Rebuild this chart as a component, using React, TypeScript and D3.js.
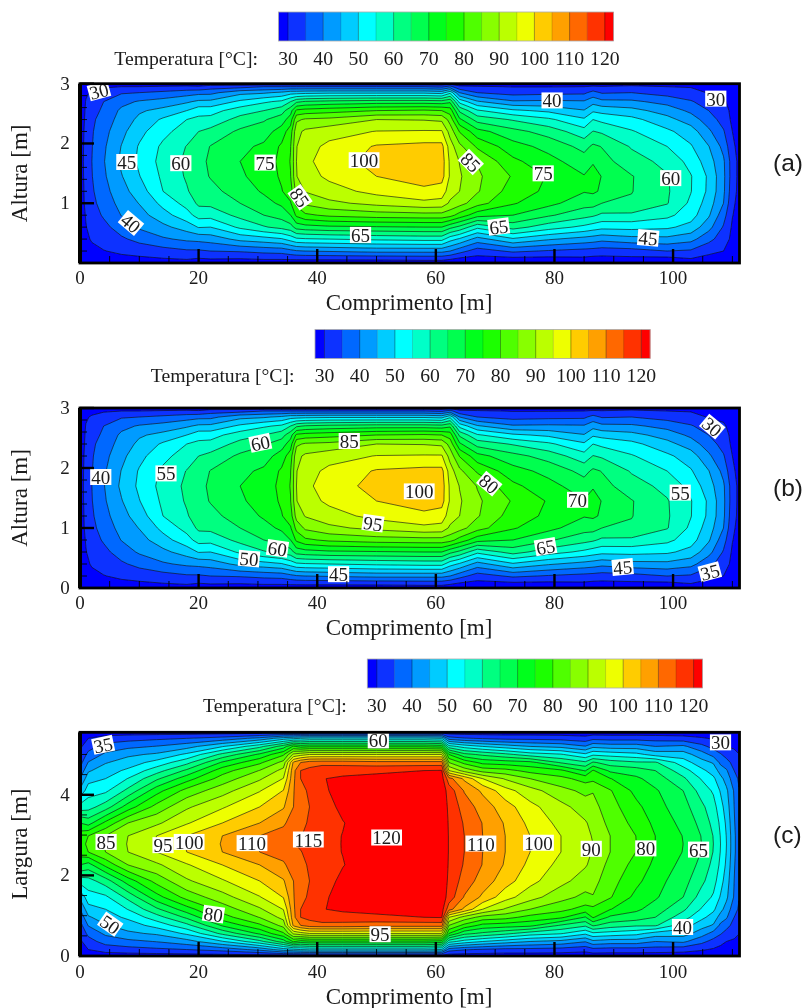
import React, { useMemo } from "react";
import * as d3 from "d3";

const levels = d3.range(30, 121, 5);
const bandColors = ["#0000ff","#0a32ff","#0068ff","#009bff","#00ccff","#00ffff","#00ffc8","#00ff80","#00ff50","#00ff1a","#1aff00","#50ff00","#88ff00","#bbff00","#eeff00","#ffcc00","#ffa000","#ff6800","#ff3300","#ff0000"];
const legendTicks = [30,40,50,60,70,80,90,100,110,120];

// sections of panels (a) and (b): position along the length [m]
const xsAB = [0,1,2,4,7,10,14,18,20,22,27,31,34,35.5,36.5,38,42,50,58,61,62.4,64,67,73,79,85,86.5,88,93,99,103,106,108.5,110,111.2];
// height [m]
const ysAB = [0,0.06,0.2,0.4,0.6,0.8,1,1.2,1.45,1.7,1.95,2.2,2.4,2.55,2.7,2.85,2.95,3];
// temperature [C] at each height, one line per section
const tempAB = [
[26,26.5,27,27,27.5,27.5,28,28,28,28,28,28,27.5,27.5,27,27,26.5,26],
[26.5,27,28,29,29.8,30.3,30.8,31,31.3,31.5,31.3,31,30.8,30.5,30.2,29.5,28,26.5],
[26.5,27.3,28.7,30.5,31.8,32.8,33.7,34.3,34.8,35,34.8,34.5,34,33,32,30.5,28.8,26.5],
[27,28,29.8,32,33.6,35.6,37,38.2,39.2,39.7,39.2,38.3,37.2,36,35,32,29.5,27],
[27.5,28.5,31,34.2,37.3,40.2,41.8,43.2,44.7,46,45.2,43.6,42,41,38.5,34.5,30,27],
[28,28.8,32,36.5,40.7,43,45.2,47.4,49.8,51,50.5,48.5,46.2,44.3,40.5,35,30,27],
[28,29.5,33,39.3,43.7,48,51.5,55,56,56.8,56,53.5,50.8,46.5,42,36.2,30.5,27],
[28,30,34.3,41,47.3,53,56.8,59.5,60.6,61,60.2,57.5,55,50,44.2,37.7,31,27],
[27.5,29.3,34.3,41.5,50.3,57,61,62.5,63.3,63.6,62.5,60,56.2,53,46,38.5,30.5,27],
[28,29.7,35,42.2,50,56.8,61.3,63.5,65.3,65.8,65.2,61.5,56.7,52.9,46.2,38.6,32.5,27],
[28,29.5,35.5,46.5,56,61.5,65,67.3,69.2,70,68.7,66,61.8,57.7,51,43.5,33,27],
[27.5,30,36.5,48,59.5,65,68.2,70.7,72.3,73,71,67.5,64.5,60,54.2,44.3,35,27],
[27.5,30,37,49.5,61.5,67,71,74.7,75.7,76,75.8,72.5,67.5,63,56,46,35,27],
[27,30.2,38.5,52,63,70,74.5,77.5,79.8,80.3,79.8,77.5,72.5,68,60,48,35,27],
[27,30.3,39.5,54,67,76,81.5,87,89.8,90,89.8,88.5,84,76,64,48,35,27],
[27,30.4,40,54.5,68,79,86,90.3,93,94,93,91,85.7,77,65.5,48.5,35,27],
[27,30.4,40.5,55,69,81,88.8,93,96,97,96.2,93,86.4,78,66.5,49,35,27],
[27,30.5,41.5,56,69.5,82.5,91.5,96.5,100,102,100.5,95.2,90,80,67.5,49,35,27],
[27,31,41.5,56.7,70,83,93.8,98.5,103,104,101.5,95.5,89.7,80.7,67.5,49,35,27],
[27,31,41.5,56.7,70,83,93.3,97.5,102,102.5,101.5,95.5,89,80,67,48,34,27],
[27,30,40,52,66.5,81.8,89,92.5,94.3,94,92.5,88,83,77.7,69,53.8,36.7,29],
[26,28.5,37,49.3,63.7,78,87,90,90.6,89.8,86.3,79.7,71,64,53.3,40,31,27],
[27,28,32.5,43,56.3,72,82,85.5,85.9,84.7,79.2,71.8,63,55.6,45.6,35,30.5,27],
[27,28,36,49.3,62,70,75.5,77.5,79.5,76.2,72,66.7,59.5,51,40.7,33,29.8,27],
[27,28,34.5,45.6,57.3,65.7,71.5,74,74.5,71.7,68.4,62.9,56,48.9,41,33.6,29.8,27],
[27.5,28.7,33.3,43.2,53.8,61.8,67,70.3,70.3,67.3,63.4,57,50.8,45.3,40.6,34,30,27],
[27.5,28.2,33,42.5,52.5,60.8,67,70.8,72,69.5,65.9,60.2,55,49.2,43.2,36.7,30.7,27],
[27.5,28.2,32.5,41.5,51.5,59,65,69.3,69.8,66.8,64.8,59.3,53.7,48.3,41.4,34.5,30.3,27],
[27,28.5,33,43.2,51.7,59,64.3,65.2,65.3,62.2,59.5,55.5,51.5,46.7,41,35,31,28],
[27,28,35,43.6,50.9,56.3,60.3,60.6,60.4,58.5,55,51,46.7,42.8,38.3,33,30,27.5],
[27,29.5,34.3,41.7,48.3,52.2,54,55.2,55.3,53.3,50.5,47.5,42.5,38.9,35.5,31.7,29.7,27],
[27,28,31.5,36.5,41.8,45.7,47.5,49,49.2,47.3,45.2,41,37.5,35,32.5,29.7,28.3,27],
[27,27.8,30,32.5,34.5,37,40,41,41.2,40.8,38.5,35.5,33,32,30.7,29,28,27],
[26.5,27.3,28,28.7,29.3,30.2,31,32,32.5,32.5,31,30,29,28.7,28.3,27.8,27.3,26.5],
[26.5,26.8,27,27.5,28,28,28.3,28.5,28.5,28.5,28.3,28,28,27.7,27.5,27,26.5,26],
];

// sections of panel (c)
const xsC = [0,1.4,4.3,8.1,12.9,18,24,30.3,34.3,36,37.2,38.7,40.8,44.3,50,58,61,62.2,64.8,67.9,71.7,75.9,81.1,85.2,86.5,89.4,93.8,97,101.7,104.8,106.8,108,109,110.3,111.2];
// the field of (c) is symmetric about its centre line: rows read from the centre to the upper wall
const ysCUpper = [2.78,2.98,3.3,3.7,4.1,4.4,4.6,4.8,5,5.2,5.4,5.55];
const ysCLower = [0,0.16,0.36,0.56,0.76,0.96,1.16,1.46,1.86,2.26,2.58];
const tempCUpper = [
[79,78,70,57,46,40,36,33,31,29,28,27],
[80.5,80,68,58,52.8,48,44.3,40.3,36.3,33,30,27],
[85.5,85,76.3,62.5,54,50,47.7,44.6,41,37,32,27.5],
[90.3,90,85,72.5,61.4,55.2,51,47.4,44,38.7,33,27.5],
[95.3,95,89,81.7,73,64,57.8,51.8,45.8,40.2,34,27.5],
[100.3,100,94.5,89.2,81.8,72.8,66,58.5,51,43,35,27.5],
[105.3,105,100,94.4,88,82.2,77.8,70.7,61.3,49.6,37,27.5],
[110.3,110,105,100,94.7,89.3,85.2,79,71,58.5,41.5,27.5],
[113,112.5,109,104.5,100.2,95.2,91.6,86.7,79.2,67.5,47.5,27.5],
[114.7,114.6,113,110,109.7,109,108.5,106,91,75.7,49,27],
[116,114.7,113.5,112.5,113.5,115,115,110,93,73,50,27],
[117.5,116.8,115.7,115,115.8,116.8,116.5,112.5,95,74,51,27],
[119,118.7,118.3,118,119,119.8,118.5,113,95,74,51,27],
[120.1,120.1,119.8,121,122,120.8,118.3,113,95,74,51,27],
[123,123,123,123,123,121.5,119,112,95,74,51,27],
[124,124,124,124,124,122,120,112,95,74,51,27],
[124,124,124,123.5,123,122,120.3,112,95,73,50,27],
[119.7,119.7,119.5,119,118,112,95,85,75,57,37.5,27],
[115,115,114.5,112.8,109.6,104,88,78.5,66.5,52.9,35.5,27],
[110,110,109.8,107.7,104,95,83,73.5,64,50,34.5,27],
[105,105,104.5,102.3,97,89.5,81.7,72.5,61.3,47.5,33.5,27],
[100,100,98.7,96.5,92,85,78.3,71.5,57.5,45,33.5,27],
[95,95,93.5,91.5,86.8,81.5,76,64.5,55.5,43.5,33,27],
[91,91,90.5,87.6,83.7,78,69.6,61,51,40.3,31.7,27],
[90,89.7,88.5,86.7,84.7,78.7,75.5,65.7,54,43.7,33.5,27],
[85,85,83.5,82,80.4,75.2,69,62.5,53,42.5,33,27],
[80,79.9,78.3,76.3,73.5,71,67.5,60.7,51.5,42.5,33,27],
[75,75,73.8,72,70.7,67.7,65,60.7,48,40,32.7,27],
[70,69.8,68.5,67,65,61,57.2,52.5,47.4,41,32,27],
[65,64.8,63.5,61.2,57.9,54.6,51.3,47,42.3,36.5,30.5,27],
[60,59.8,58.5,57,54.3,51,47.8,44.5,38.3,33.2,29.5,27],
[55,54.8,54,52,49.5,46.5,43,38.8,35.5,31.5,28.5,27],
[50,49.8,49,47.5,46,43,40.6,37,33,30,28,27],
[41,41,40.5,40,39.5,37,35,33,31,29.5,28,27],
[36.5,36.5,36,35.5,35,34,33,31.5,30,28.5,27.5,26.5],
];
const ysC = [...ysCLower, ...ysCUpper];
const tempC = tempCUpper.map(col => [...col.slice(1).reverse(), ...col]);

// isotherm labels: text, length [m], height or width [m], rotation [deg]
type Lab = [string, number, number, number];
const labelsA: Lab[] = [["30",3.2,2.88,-15],["45",7.9,1.69,0],["60",17,1.67,0],["75",31.2,1.68,0],["100",47.9,1.72,0],["85",37.1,1.1,55],["85",65.9,1.69,45],["75",78.1,1.5,0],["60",99.6,1.42,0],["40",8.6,0.67,40],["65",47.3,0.47,0],["65",70.6,0.61,-7],["45",95.8,0.42,5],["40",79.6,2.72,0],["30",107.2,2.75,0]];
const labelsB: Lab[] = [["40",3.5,1.85,0],["55",14.5,1.91,0],["60",30.4,2.42,-12],["85",45.4,2.45,0],["60",33.3,0.66,8],["50",28.5,0.49,5],["45",43.6,0.23,0],["95",49.4,1.08,8],["100",57.2,1.61,0],["80",69,1.74,40],["70",83.9,1.47,0],["55",101.2,1.59,0],["65",78.5,0.69,-10],["45",91.5,0.35,-5],["35",106.2,0.27,-15],["30",106.6,2.69,40]];
const labelsC: Lab[] = [["35",3.9,5.24,-12],["60",50.3,5.35,0],["85",4.4,2.83,0],["95",14,2.75,0],["100",18.4,2.83,0],["110",29,2.8,0],["115",38.5,2.89,0],["120",51.7,2.94,0],["50",5.1,0.79,35],["80",22.5,1.04,8],["95",50.6,0.54,0],["110",67.6,2.79,0],["100",77.3,2.81,0],["90",86.2,2.66,0],["80",95.4,2.67,0],["65",104.3,2.64,0],["40",101.6,0.72,0],["30",108,5.3,0]];

const xTicks = [0,20,40,60,80,100];
const xMinor = d3.range(0,111,5).filter(v => v % 20 !== 0);
const X_MAX = 111.2;
const serif = "'Liberation Serif', serif";
const ink = "#1a1a1a";

type PanelProps = { xs:number[]; ys:number[]; temp:number[][]; labels:Lab[]; yMax:number; top:number; bottom:number; yTicks:number[]; yMinor:number[]; yTitle:string; yLabelTicks:number[]; barX:number; barY:number; tag:string; tagY:number; xLabY:number; xTitleY:number };

function Panel(p: PanelProps) {
  const x = d3.scaleLinear().domain([0, X_MAX]).range([80, 739.5]);
  const y = d3.scaleLinear().domain([0, p.yMax]).range([p.bottom, p.top]);
  const bands = useMemo(() => {
    const n = p.xs.length, m = p.ys.length;
    const flat: number[] = [];
    for (let r = 0; r < m; r++) for (let c = 0; c < n; c++) flat.push(p.temp[c][r]);
    const gx = d3.scaleLinear().domain(p.xs.map((_, i) => i + 0.5)).range(p.xs).clamp(true);
    const gy = d3.scaleLinear().domain(p.ys.map((_, i) => i + 0.5)).range(p.ys).clamp(true);
    const path = d3.geoPath(d3.geoTransform({ point(a, b) { this.stream.point(x(gx(a)), y(gy(b))); } }));
    return d3.contours().size([n, m]).thresholds(levels)(flat).map(g => ({ value: g.value, d: path(g as any) || "" }));
  }, []);
  const clipId = "clip" + p.tag;
  const bar = d3.scaleLinear().domain([30, 120]).range([p.barX + 9.5, p.barX + 9.5 + 316.8]);
  const stops = [27.3, ...levels, 122.5];
  return (
    <g>
      <defs><clipPath id={clipId}><rect x={x(0)} y={y(p.yMax)} width={x(X_MAX) - x(0)} height={y(0) - y(p.yMax)} /></clipPath></defs>
      {bandColors.map((c, i) => (
        <rect key={i} x={bar(stops[i])} y={p.barY} width={bar(stops[i + 1]) - bar(stops[i]) + 0.3} height={29} fill={c} />
      ))}
      {levels.map(v => <line key={v} x1={bar(v)} x2={bar(v)} y1={p.barY} y2={p.barY + 29} stroke="#000" strokeOpacity={v % 10 === 0 ? 0.45 : 0.2} strokeWidth={0.8} />)}
      <rect x={bar(27.3)} y={p.barY} width={bar(122.5) - bar(27.3)} height={29} fill="none" stroke="#aaa" strokeWidth={0.8} />
      <text x={p.barX - 20.5} y={p.barY + 48} textAnchor="end" dominantBaseline="middle" fontFamily={serif} fontSize={19.7} fill={ink}>Temperatura [°C]:</text>
      {legendTicks.map(v => <text key={v} x={bar(v)} y={p.barY + 48} textAnchor="middle" dominantBaseline="middle" fontFamily={serif} fontSize={19.7} fill={ink}>{v}</text>)}
      <g clipPath={`url(#${clipId})`}>
        <rect x={x(0)} y={y(p.yMax)} width={x(X_MAX) - x(0)} height={y(0) - y(p.yMax)} fill={bandColors[0]} />
        {bands.map((b, i) => <path key={i} d={b.d} fill={bandColors[i + 1]} />)}
        {bands.map((b, i) => <path key={i} d={b.d} fill="none" stroke="#151515" strokeWidth={0.75} strokeOpacity={0.85} />)}
      </g>
      {p.labels.map(([t, lx, ly, rot], i) => {
        const w = t.length * 9.6 + 2;
        return (
          <g key={i} transform={`translate(${x(lx)},${y(ly)}) rotate(${rot})`}>
            <rect x={-w / 2} y={-8} width={w} height={16} fill="#fff" />
            <text y={0.5} textAnchor="middle" dominantBaseline="central" fontFamily={serif} fontSize={19} fill={ink}>{t}</text>
          </g>
        );
      })}
      {xMinor.map(v => <line key={v} x1={x(v)} x2={x(v)} y1={p.bottom} y2={p.bottom - 7} stroke="#000" strokeWidth={0.9} />)}
      {xTicks.map(v => <line key={v} x1={x(v)} x2={x(v)} y1={p.bottom} y2={p.bottom - 14} stroke="#000" strokeWidth={2.4} />)}
      {p.yMinor.map(v => <line key={v} x1={80} x2={87} y1={y(v)} y2={y(v)} stroke="#000" strokeWidth={0.9} />)}
      {p.yTicks.map(v => <line key={v} x1={80} x2={94} y1={y(v)} y2={y(v)} stroke="#000" strokeWidth={2.4} />)}
      <rect x={x(0)} y={y(p.yMax)} width={x(X_MAX) - x(0)} height={y(0) - y(p.yMax)} fill="none" stroke="#000" strokeWidth={2.8} />
      <line x1={80} x2={80} y1={y(p.yMax)} y2={y(0)} stroke="#000" strokeWidth={4} />
      {xTicks.map(v => <text key={v} x={x(v)} y={p.xLabY + 1.5} textAnchor="middle" dominantBaseline="middle" fontFamily={serif} fontSize={19} fill={ink}>{v}</text>)}
      {p.yLabelTicks.map(v => <text key={v} x={65} y={y(v) + 1.5} textAnchor="middle" dominantBaseline="middle" fontFamily={serif} fontSize={19} fill={ink}>{v}</text>)}
      <text x={409} y={p.xTitleY + 2} textAnchor="middle" dominantBaseline="middle" fontFamily={serif} fontSize={23} fill={ink}>Comprimento [m]</text>
      <text transform={`translate(22,${(p.top + p.bottom) / 2}) rotate(-90)`} textAnchor="middle" dominantBaseline="middle" fontFamily={serif} fontSize={23} fill={ink}>{p.yTitle}</text>
      <text x={773} y={p.tagY} dominantBaseline="middle" fontFamily="'Liberation Sans', sans-serif" fontSize={24.5} fill={ink}>{p.tag}</text>
    </g>
  );
}

export default function App() {
  return (
    <svg width={807} height={1008} style={{ position: "absolute", left: 0, top: 0, background: "#fff" }}>
      <defs><filter id="soft" x="0" y="0" width="100%" height="100%"><feGaussianBlur stdDeviation="0.35" /></filter></defs>
      <g filter="url(#soft)">
        <rect width={807} height={1008} fill="#fff" />
        <Panel xs={xsAB} ys={ysAB} temp={tempAB} labels={labelsA} yMax={3} top={83.7} bottom={263} yTicks={[1,2,3]} yLabelTicks={[1,2,3]} yMinor={d3.range(0.2,3,0.2)} yTitle="Altura [m]" barX={278.5} barY={12} tag="(a)" tagY={165} xLabY={278} xTitleY={303} />
        <Panel xs={xsAB} ys={ysAB} temp={tempAB} labels={labelsB} yMax={3} top={408} bottom={588} yTicks={[1,2,3]} yLabelTicks={[0,1,2,3]} yMinor={d3.range(0.2,3,0.2)} yTitle="Altura [m]" barX={315} barY={329.5} tag="(b)" tagY={490} xLabY={603.3} xTitleY={628} />
        <Panel xs={xsC} ys={ysC} temp={tempC} labels={labelsC} yMax={5.55} top={732.3} bottom={956} yTicks={[2,4]} yLabelTicks={[0,2,4]} yMinor={d3.range(0.5,5.5,0.5)} yTitle="Largura [m]" barX={367.3} barY={659} tag="(c)" tagY={836.7} xLabY={971.7} xTitleY={997} />
      </g>
    </svg>
  );
}
